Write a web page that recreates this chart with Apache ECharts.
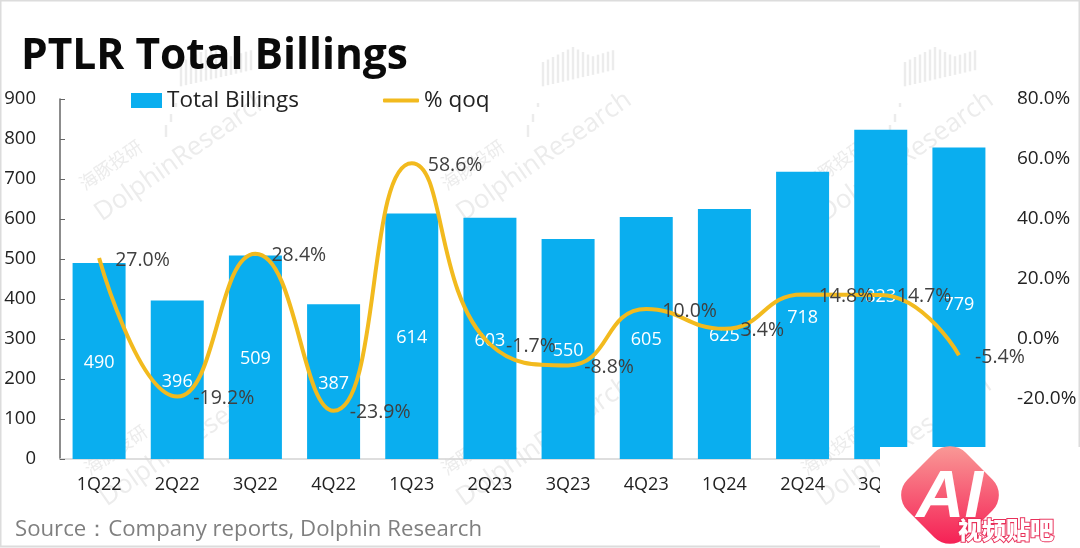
<!DOCTYPE html>
<html>
<head>
<meta charset="utf-8">
<style>html,body{margin:0;padding:0;background:#fff}#main{width:1080px;height:548px}</style>
<script src="https://cdn.jsdelivr.net/npm/echarts@6/dist/echarts.min.js"></script>
</head>
<body>
<div id="main"></div>
<script>
var quarters = ['1Q22','2Q22','3Q22','4Q22','1Q23','2Q23','3Q23','4Q23','1Q24','2Q24','3Q24','4Q24'];
var billings = [490,396,509,387,614,603,550,605,625,718,823,779];
var qoq = [27.0,-19.2,28.4,-23.9,58.6,-1.7,-8.8,10.0,3.4,14.8,14.7,-5.4];

var FONT = '"Open Sans","Noto Sans",sans-serif';
var WM = '#ececec';
var myChart = echarts.init(document.getElementById('main'));

// 水印
function mark(x, y, withBars){
	var list = [
		{type:'text', x:x, y:y, rotation:0.61, z:-1, silent:true,
			style:{text:'DolphinResearch', font:'26px '+FONT, fill:WM}},
		{type:'text', x:x-14, y:y-27, rotation:0.61, z:-1, silent:true,
			style:{text:'海豚投研', font:'18px "Noto Sans CJK SC"', fill:WM}}
	];
	if(withBars){
		var dx = 76;
		while(dx < 163){
			var top = dx < 88 ? -80-(dx-76)*2.2 : -158+Math.abs(dx-121)*0.5-(dx>140 ? (dx-140)*0.8 : 0);
			var bot = dx < 88 ? -68-(dx-76)*3 : -118-(dx-88)*0.23;
			list.push({type:'line', z:-1, silent:true,
				shape:{x1:x+dx,y1:y+top,x2:x+dx,y2:y+bot},
				style:{stroke:WM, lineWidth:2.5}});
			dx += 5;
		}
	}
	return list;
}
var marks = [].concat(mark(90,205,true), mark(452,205,true), mark(814,205,true),
	mark(95,490,false), mark(452,490,false), mark(812,490,false));

var option = {
	backgroundColor:'#fff',
	animation:false,
	textStyle:{fontFamily:FONT},
	legend:[
		{data:[{name:'Total Billings', icon:'rect'}], left:126, top:84, itemWidth:31, itemHeight:15, itemGap:8,
			textStyle:{fontSize:22.5, color:'#222', fontFamily:FONT}},
		{data:[{name:'% qoq', icon:'roundRect'}], left:378, top:84, itemWidth:36, itemHeight:4, itemGap:22,
			textStyle:{fontSize:22.5, color:'#222', fontFamily:FONT}}
	],
	grid:{left:60, right:82, top:99, bottom:89},
	xAxis:{
		type:'category', data:quarters,
		axisTick:{show:false},
		axisLine:{lineStyle:{color:'#d4d4d4', width:1.5}},
		axisLabel:{fontSize:18, color:'#222', margin:17, fontFamily:FONT, interval:0}
	},
	yAxis:[
		{type:'value', min:0, max:900, interval:100,
			splitLine:{show:false},
			axisLine:{show:true, lineStyle:{color:'#666', width:1.5}},
			axisTick:{show:true, inside:true, length:5, lineStyle:{color:'#666'}},
			axisLabel:{fontSize:18.5, color:'#222', margin:24, padding:[7,0,0,0], fontFamily:FONT}},
		{type:'value', min:-40, max:80, interval:20,
			splitLine:{show:false},
			axisLine:{show:false}, axisTick:{show:false},
			axisLabel:{fontSize:19, color:'#222', margin:19, padding:[7,0,0,0], fontFamily:FONT,
				formatter:function(v){ return v === -40 ? '' : v.toFixed(1)+'%'; }}}
	],
	series:[
		{name:'Total Billings', type:'bar', data:billings, barWidth:53, yAxisIndex:0,
			itemStyle:{color:'#0AAEEF'},
			label:{show:true, position:'inside', offset:[0,2], color:'#fff', fontSize:18, fontFamily:FONT}},
		{name:'% qoq', type:'line', data:qoq, yAxisIndex:1, smooth:0.5,
			symbol:'circle', symbolSize:0.1, showAllSymbol:true,
			itemStyle:{color:'#F2BA1E'},
			lineStyle:{color:'#F2BA1E', width:4},
			label:{show:true, position:'right', distance:16, offset:[0,2], color:'#404040', fontSize:19.5, fontFamily:FONT,
				formatter:function(p){ return p.value.toFixed(1)+'%'; }},
			z:3}
	],
	graphic:{elements:[
		{type:'rect', shape:{x:0.5,y:0.5,width:1079,height:546}, z:-2, silent:true,
			style:{fill:'#fff', stroke:'#dcdcdc', lineWidth:2}}
	].concat(marks).concat([
		{type:'text', x:21, y:35, z:10,
			style:{text:'PTLR Total Billings', font:'bold 42.5px '+FONT, fill:'#0a0a0a'}},
		{type:'text', x:15, y:519, z:10,
			style:{text:'Source：Company reports, Dolphin Research', font:'22.2px '+FONT, fill:'#7f7f7f'}},
		// 右下角贴图
		{type:'rect', shape:{x:880,y:447,width:200,height:101}, z:20, style:{fill:'#fff'}},
		{type:'rect', x:950, y:495, rotation:Math.PI/4, z:21,
			shape:{x:-41,y:-41,width:82,height:82,r:22},
			style:{fill:new echarts.graphic.LinearGradient(1,0,0,1,[{offset:0,color:'#F9A49C'},{offset:1,color:'#F5154F'}])}},
		{type:'text', x:916, y:465, z:22,
			style:{text:'AI', font:'italic 900 67px "Liberation Sans"', fill:'#fff'}},
		{type:'text', x:958, y:518, z:22,
			style:{text:'视频贴吧', font:'900 24px "Noto Sans CJK SC"', fill:'#fff', stroke:'#E8305A', lineWidth:2}}
	])}
};
myChart.setOption(option);
</script>
</body>
</html>
